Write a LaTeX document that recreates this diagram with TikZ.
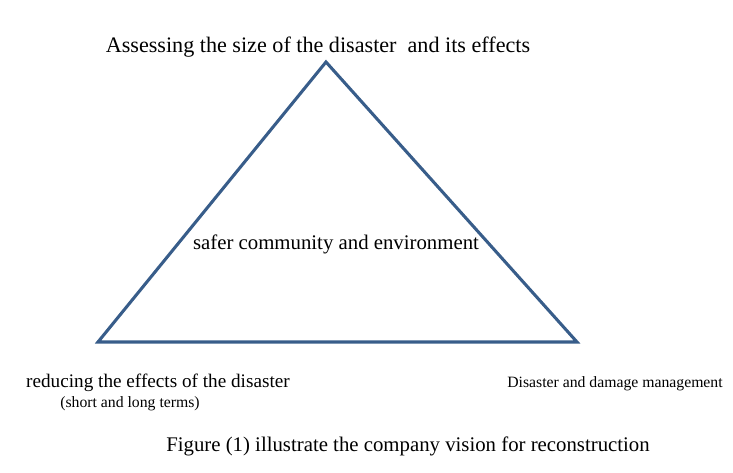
\documentclass[tikz,border=0pt]{standalone}
\usepackage{fontspec}
\setmainfont{Liberation Serif}
\definecolor{tri}{HTML}{385D8A}
\begin{document}
\begin{tikzpicture}[x=0.75pt,y=-0.75pt,
  lbl/.style={inner sep=0pt},
  small/.style={inner sep=0pt,font=\fontsize{11.8}{14}\selectfont}]
\useasboundingbox (0,0) rectangle (733,473);
\coordinate (A) at (326,62);
\coordinate (B) at (98,342);
\coordinate (C) at (577,342);
\draw[tri,line width=2.3pt,line join=miter] (A) -- (B) -- (C) -- cycle;
\node[lbl,font=\fontsize{16.6}{19}\selectfont] (top) at (318,47) {Assessing the size of the disaster\ \ and its effects};
\node[lbl,font=\fontsize{15.6}{18}\selectfont] (mid) at (336,244) {safer community and environment};
\node[lbl,font=\fontsize{14.4}{17}\selectfont] (left) at (158,383) {reducing the effects of the disaster};
\node[small] (left2) at (130,404) {(short and long terms)};
\node[small] (right) at (615,384) {Disaster and damage management};
\node[lbl,font=\fontsize{15.6}{18}\selectfont] (cap) at (408,446) {Figure (1) illustrate the company vision for reconstruction};
\end{tikzpicture}
\end{document}
